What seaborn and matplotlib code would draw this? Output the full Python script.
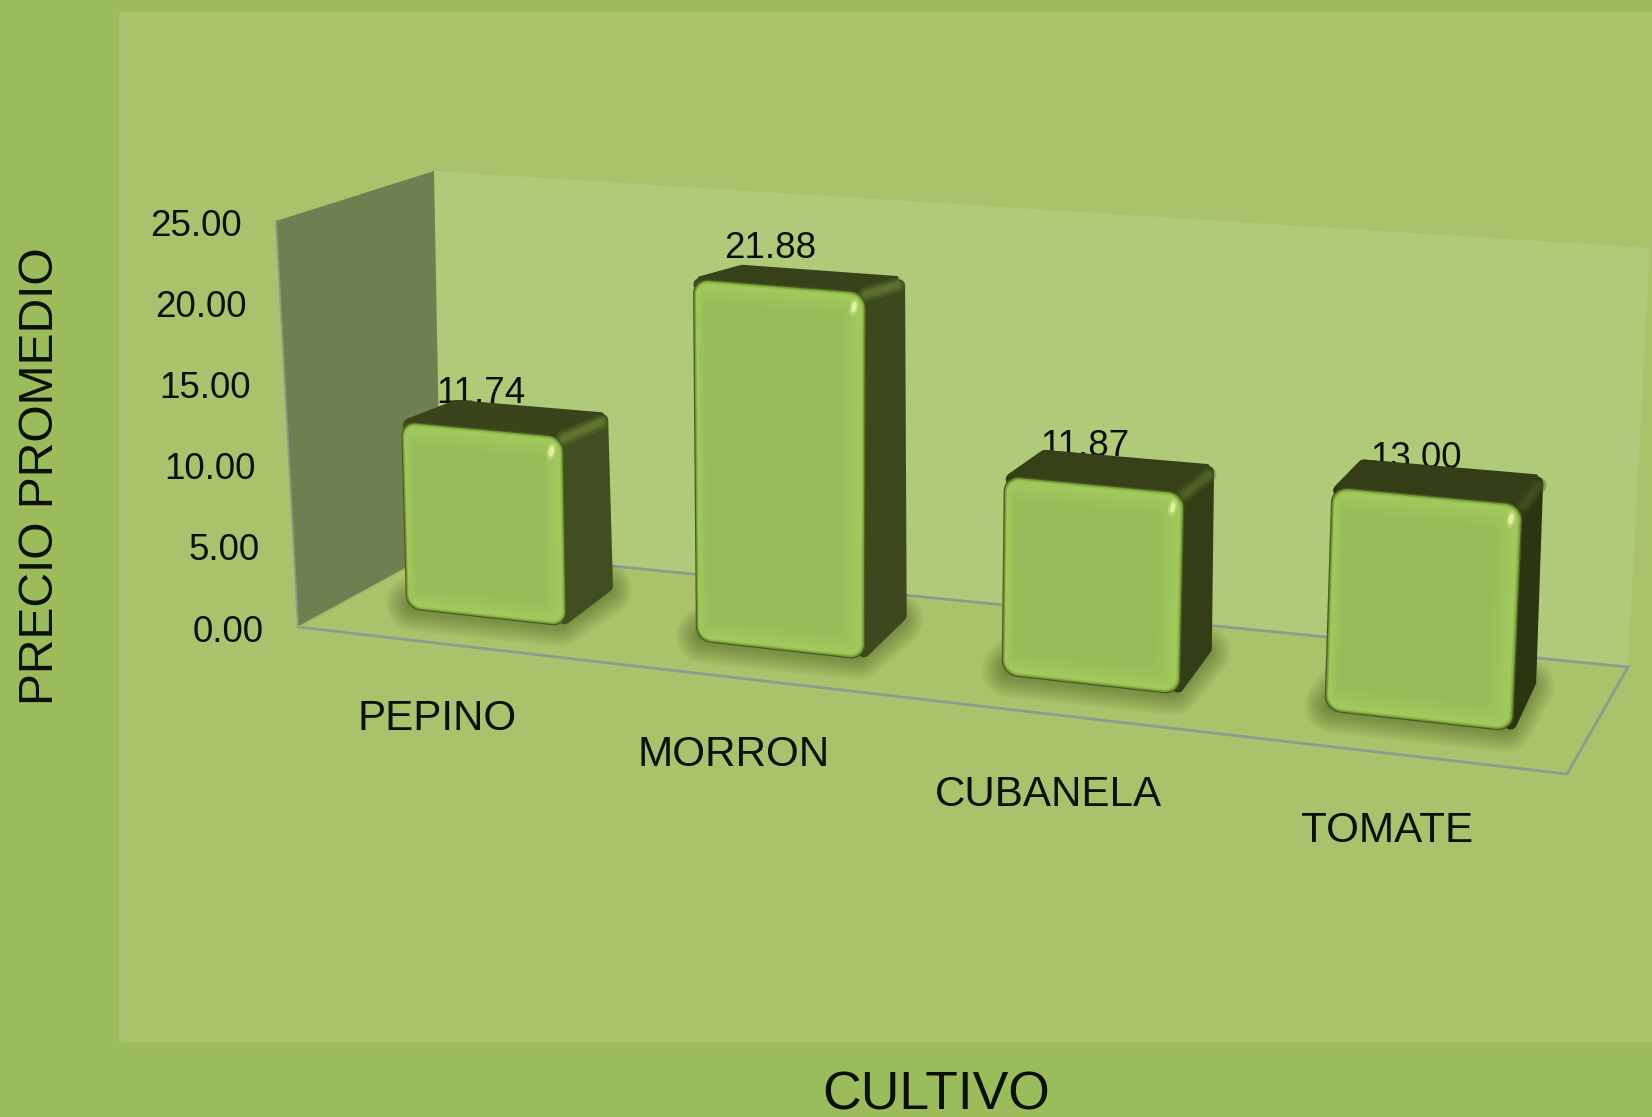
import numpy as np
import pandas as pd
import matplotlib
matplotlib.use("Agg")
import matplotlib.pyplot as plt
import matplotlib.transforms as mtransforms
from matplotlib.colors import to_rgb
from matplotlib.patches import Polygon, PathPatch, Rectangle, Ellipse
from matplotlib.path import Path
import seaborn as sns

# ---------- data ----------
cultivos = ["PEPINO", "MORRON", "CUBANELA", "TOMATE"]
precios = [11.74, 21.88, 11.87, 13.00]
value_labels = ["11.74", "21.88", "11.87", "13.00"]
y_ticks = [0, 5, 10, 15, 20, 25]
y_tick_labels = ["0.00", "5.00", "10.00", "15.00", "20.00", "25.00"]

# ---------- layout (reference pixels) ----------
W, H = 1652, 1117
BAR_W = 0.56
FRONT_CAL = [(406, 609), (1513, 732), (401, 421), (1523, 504)]
BACK_CAL = [(455, 577), (1534, 690), (450, 400), (1543, 476)]
CAL_DATA = [(-BAR_W / 2, 0), (3 + BAR_W / 2, 0), (-BAR_W / 2, 11.74), (3 + BAR_W / 2, 13.0)]
XLABEL_POS = [(437, 719), (734, 755), (1048, 795), (1387, 831)]
VALUE_NUDGE = [(-1, -35), (-9, -37), (-9, -37), (-10, -37)]
TICK_TOP, TICK_BOT = (242, 226), (264, 632)
SIDE_COL = ["#414e20", "#3d491c", "#333e17", "#2b3512"]
TOP_COL = ["#39441a", "#37421a", "#364118", "#333d16"]
RIM_COL = ["#5f7630", "#5c7230", "#4f6226", "#3f4e1d"]
EDGE_LAYERS = [(1.2, "#7a9c3a"), (2.5, "#93bc4d")]
SOFT_FROM, SOFT_TO = "#a1ca5c", "#99bc5a"


def solve_h(src, dst):
    A, b = [], []
    for (x, y), (u, v) in zip(src, dst):
        A.append([x, y, 1, 0, 0, 0, -u * x, -u * y]); b.append(u)
        A.append([0, 0, 0, x, y, 1, -v * x, -v * y]); b.append(v)
    return np.append(np.linalg.solve(np.array(A, float), np.array(b, float)), 1).reshape(3, 3)


class Homography(mtransforms.Transform):
    input_dims = output_dims = 2
    is_separable = False
    has_inverse = False

    def __init__(self, m):
        super().__init__()
        self.m = m

    def transform_non_affine(self, values):
        v = np.asarray(values, float)
        p = np.c_[v, np.ones(len(v))] @ self.m.T
        return p[:, :2] / p[:, 2:3]


def rounded(x0, x1, y0, y1, rx, ry, k=0.45):
    """Rounded rectangle path in data coordinates."""
    L, C, M = Path.LINETO, Path.CURVE4, Path.MOVETO
    dx, dy = rx * k, ry * k
    v = [(x0 + rx, y0), (x1 - rx, y0), (x1 - dx, y0), (x1, y0 + dy), (x1, y0 + ry),
         (x1, y1 - ry), (x1, y1 - dy), (x1 - dx, y1), (x1 - rx, y1),
         (x0 + rx, y1), (x0 + dx, y1), (x0, y1 - dy), (x0, y1 - ry),
         (x0, y0 + ry), (x0, y0 + dy), (x0 + dx, y0), (x0 + rx, y0), (x0 + rx, y0)]
    c = [M, L, C, C, C, L, C, C, C, L, C, C, C, L, C, C, C, Path.CLOSEPOLY]
    return Path(v, c)


def inset(poly, r):
    """Pull polygon corners toward the centre so a thick round stroke keeps its size."""
    p = np.array(poly, float)
    c = p.mean(axis=0)
    d = c - p
    return p + d / np.linalg.norm(d, axis=1, keepdims=True) * r


sns.set_theme(style="white")
plt.rcParams["font.family"] = ["Liberation Sans", "DejaVu Sans"]

fig = plt.figure(figsize=(W / 100, H / 100), dpi=100, facecolor="#9bbc5b")

# ---------- scene background ----------
bg = fig.add_axes([0, 0, 1, 1])
bg.set_xlim(0, W); bg.set_ylim(H, 0); bg.set_axis_off()
bg.add_patch(Rectangle((120, 12), W - 120, 1030, fc="#a8c36b", ec="none"))
bg.plot([120, 120], [12, 1042], color="#a6c468", lw=2)
floor = [(298, 627), (1567, 774), (1628, 667), (441, 549)]
wall_back = [(434, 171), (1650, 248), (1628, 667), (441, 549)]
wall_left = [(298, 627), (276, 221), (434, 171), (441, 549)]
bg.add_patch(Polygon(wall_back, fc="#afcb79", ec="none"))
bg.add_patch(Polygon(floor, fc="#a9c36a", ec="none"))
bg.add_patch(Polygon(wall_left, fc="#6f8050", ec="none"))
LINE = "#8b9d90"
bg.plot([298, 1567, 1628], [627, 774, 667], color=LINE, lw=2)
bg.plot([441, 1628], [549, 667], color=LINE, lw=2)
bg.plot([298, 276], [627, 221], color=LINE, lw=1.5, alpha=0.8)
bg.plot([298, 441], [627, 549], color="#9fb56a", lw=1)

# ---------- bars through seaborn ----------
ax = fig.add_axes([0, 0, 1, 1], facecolor="none")
df = pd.DataFrame({"cultivo": cultivos, "precio": precios})
sns.barplot(data=df, x="cultivo", y="precio", color="#4a5c22", saturation=1,
            width=BAR_W, ax=ax, order=cultivos)
ax.set_ylim(0, 25)
ax.set_axis_off()

H_front = solve_h(CAL_DATA, FRONT_CAL)
H_back = solve_h(CAL_DATA, BACK_CAL)
T_front = Homography(H_front) + bg.transData
hf, hb = Homography(H_front), Homography(H_back)

c0, c1 = np.array(to_rgb(SOFT_FROM)), np.array(to_rgb(SOFT_TO))

for i, bar in enumerate(ax.patches):
    x0, x1 = bar.get_x(), bar.get_x() + bar.get_width()
    v = bar.get_height()
    pts = np.array([(x0, v), (x1, v), (x1, 0), (x0, 0)], float)
    fr = hf.transform_non_affine(pts)
    bk = hb.transform_non_affine(pts)
    # soft shadow on the floor
    foot = inset([fr[3], fr[2], bk[2], bk[3]], 8) + np.array([0, -5])
    for lw in np.linspace(40, 4, 14):
        ax.add_patch(Polygon(foot, closed=True, fc="#34440f", ec="#34440f", lw=lw, alpha=.045,
                             joinstyle="round", transform=bg.transData, zorder=2, clip_on=False))
    # body silhouette (side colour), then the top face over it
    body = [fr[0], bk[0], bk[1], bk[2], fr[2], fr[1]]
    body = np.array(body, float)
    d = body.mean(axis=0) - body
    body = body + d / np.linalg.norm(d, axis=1, keepdims=True) * 9
    ax.add_patch(Polygon(body, fc=SIDE_COL[i], ec=SIDE_COL[i], lw=9, joinstyle="round",
                         transform=bg.transData, zorder=3, clip_on=False))
    top = inset([fr[0], fr[1], bk[1], bk[0]], 7)
    top[1] = fr[1]
    ax.add_patch(Polygon(top, fc=TOP_COL[i], ec=TOP_COL[i], lw=3, joinstyle="round",
                         transform=bg.transData, zorder=3.1, clip_on=False))
    e = fr[1] + (bk[1] - fr[1]) * 0.85 + np.array([-1, 5])
    for lw, a in zip([11, 7, 4], [.35, .6, .9]):
        ax.plot([fr[1][0], e[0]], [fr[1][1] + 2, e[1]], color=RIM_COL[i], lw=lw, alpha=a,
                solid_capstyle="round", transform=bg.transData, zorder=3.2, clip_on=False)
    # front face: the seaborn bar with rounded corners
    px_x, px_v = 1 / 300.0, 1 / 16.5
    rad = 15
    rp = rounded(x0, x1, 0, v, rad * px_x, rad * px_v)
    bar.get_path = (lambda p: (lambda: p))(rp)
    bar.get_patch_transform = mtransforms.IdentityTransform
    bar.set_transform(T_front)
    bar.set_clip_on(False)
    bar.set_zorder(4)
    bar.set_edgecolor("none")
    layers = list(EDGE_LAYERS)
    for t in np.linspace(0, 1, 12):
        layers.append((4 + t * 20, tuple(c0 + (c1 - c0) * t)))
    for j, (ins, col) in enumerate(layers):
        r = max(rad - ins * 0.7, 4)
        left = ins if ins < 3 else 2.5 + (ins - 2.5) * 0.45
        ax.add_patch(PathPatch(rounded(x0 + left * px_x, x1 - ins * px_x, ins * px_v, v - ins * px_v,
                                       r * px_x, r * px_v),
                               fc=col, ec="none", transform=T_front, zorder=4.1 + j * 0.005,
                               clip_on=False))
    # specular spot
    sx, sy = fr[1][0] - 12, fr[1][1] + 15
    ax.add_patch(Ellipse((sx, sy), 9, 18, angle=12, fc="#c0dc74", ec="none", alpha=.7,
                         transform=bg.transData, zorder=4.3, clip_on=False))
    ax.add_patch(Ellipse((sx, sy), 5, 11, angle=12, fc="#e2f0a8", ec="none",
                         transform=bg.transData, zorder=4.31, clip_on=False))

# ---------- text ----------
TXT = "#0c0f08"
for i, (lab, val) in enumerate(zip(value_labels, precios)):
    p = hf.transform_non_affine(np.array([[i, val]], float))[0]
    # value labels sit behind the bars, as in the reference
    ax.text(p[0] + VALUE_NUDGE[i][0], p[1] + VALUE_NUDGE[i][1], lab, fontsize=26.5, color=TXT,
            ha="center", va="center", transform=bg.transData, zorder=2.5)
for t, lab in zip(y_ticks, y_tick_labels):
    f = t / 25
    px = TICK_BOT[0] + (TICK_TOP[0] - TICK_BOT[0]) * f
    py = TICK_BOT[1] + (TICK_TOP[1] - TICK_BOT[1]) * f
    ax.text(px, py, lab, fontsize=26.5, color=TXT, ha="right", va="center",
            transform=bg.transData, zorder=6)
for lab, pos in zip(cultivos, XLABEL_POS):
    ax.text(pos[0], pos[1], lab, fontsize=30.3, color=TXT, ha="center", va="center",
            transform=bg.transData, zorder=6)
ax.text(936, 1095, "CULTIVO", fontsize=38.5, color=TXT, ha="center", va="center",
        transform=bg.transData, zorder=6)
ax.text(41, 476, "PRECIO PROMEDIO", fontsize=34.6, color=TXT, rotation=90, ha="center", va="center",
        transform=bg.transData, zorder=6)

fig.savefig("out.png", dpi=100, facecolor=fig.get_facecolor())
